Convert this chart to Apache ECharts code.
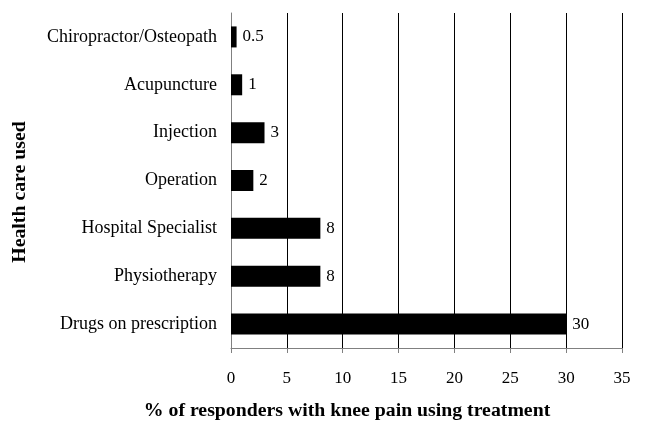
<!DOCTYPE html>
<html>
<head>
<meta charset="utf-8">
<script src="https://cdn.jsdelivr.net/npm/echarts@6/dist/echarts.min.js"></script>
<style>html,body{margin:0;padding:0;background:#fff}#c{width:650px;height:421px}</style>
</head>
<body>
<div id="c"></div>
<script>
var categories = ["Drugs on prescription", "Physiotherapy", "Hospital Specialist", "Operation", "Injection", "Acupuncture", "Chiropractor/Osteopath"];
var values = [30, 8, 8, 2, 3, 1, 0.5];
var xTicks = [0, 5, 10, 15, 20, 25, 30, 35];
var xName = "% of responders with knee pain using treatment";
var yName = "Health care used";

var font = "'Liberation Serif', 'Times New Roman', serif";
var chart = echarts.init(document.getElementById('c'));
chart.setOption({
  animation: false,
  grid: {left: 231, right: 28, top: 13, bottom: 73, containLabel: false, outerBoundsMode: 'none'},
  xAxis: {
    type: 'value', min: xTicks[0], max: xTicks[xTicks.length - 1], interval: 5,
    name: xName, nameLocation: 'middle', nameGap: 53,
    nameTextStyle: {fontFamily: font, fontWeight: 'bold', fontSize: 19.8, color: '#000', padding: [0, 159, 0, 0]},
    axisLine: {show: true, lineStyle: {color: '#808080', width: 1}},
    axisTick: {show: true, length: 5, lineStyle: {color: '#808080'}},
    axisLabel: {fontFamily: font, fontSize: 17, color: '#000', margin: 22},
    splitLine: {show: true, lineStyle: {color: '#000', width: 1}}
  },
  yAxis: {
    type: 'category', data: categories,
    name: yName, nameLocation: 'middle', nameGap: 201, nameRotate: 90,
    nameTextStyle: {fontFamily: font, fontWeight: 'bold', fontSize: 19.8, color: '#000', padding: [0, 23, 0, 0]},
    axisLine: {show: true, lineStyle: {color: '#808080', width: 1}},
    axisTick: {show: false},
    axisLabel: {fontFamily: font, fontSize: 18, color: '#000', margin: 14},
    splitLine: {show: false}
  },
  series: [{
    type: 'bar', data: values, barWidth: 21,
    itemStyle: {color: '#000'},
    label: {show: true, position: 'right', distance: 6, fontFamily: font, fontSize: 17, color: '#000'}
  }]
});
</script>
</body>
</html>
